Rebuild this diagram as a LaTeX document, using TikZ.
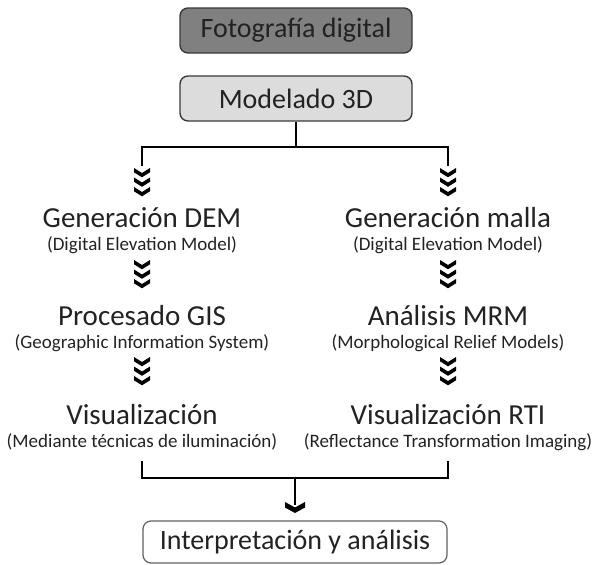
\documentclass[tikz,border=0pt]{standalone}
\usepackage{fontspec}
\setmainfont{Carlito}
\definecolor{txt}{HTML}{222222}
\definecolor{darkfill}{HTML}{808080}
\definecolor{lightfill}{HTML}{DCDCDC}
\definecolor{edge}{HTML}{3A3A3A}
\begin{document}
\begin{tikzpicture}[x=1pt,y=-1pt,
  big/.style={font=\fontsize{29}{32}\selectfont, text=txt, inner sep=0pt, anchor=base},
  small/.style={font=\fontsize{19}{22}\selectfont, text=txt, inner sep=0pt, anchor=base},
  boxtxt/.style={font=\fontsize{28}{31}\selectfont, text=txt, rounded corners=8pt, line width=1.4pt, draw=edge, inner sep=0pt},
  conn/.style={line width=2.6pt, draw=black, line join=miter},
  chev/.pic={\fill[black] (-8,0) -- (0,5) -- (8,0) -- (8,4.3) -- (0,9.3) -- (-8,4.3) -- cycle;},
  chevs/.pic={\pic at (0,0) {chev}; \pic at (0,9.5) {chev}; \pic at (0,19) {chev};},
  bigchev/.pic={\fill[black] (-10,0) -- (0,5.5) -- (10,0) -- (10,5.5) -- (0,11) -- (-10,5.5) -- cycle;}
]
\useasboundingbox (0,0) rectangle (598,565);

% top boxes
\node[boxtxt, fill=darkfill, minimum width=232pt, minimum height=45pt] (foto) at (296,30.5) {Fotografía digital};
\node[boxtxt, fill=lightfill, minimum width=232pt, minimum height=45pt] (model) at (296,98.5) {Modelado 3D};

% split
\coordinate (tl) at (142,147);
\coordinate (tr) at (448,147);
\coordinate (cl) at (142,166);
\coordinate (cr) at (448,166);
\draw[conn] (model.south) -- (model.south |- tl);
\draw[conn] (cl) -- (tl) -- (tr) -- (cr);
\pic at (142,168) {chevs};
\pic at (448,168) {chevs};

% row 1
\node[big] (gdem) at (142,227) {Generación DEM};
\node[small] (gdems) at (142,250) {(Digital Elevation Model)};
\node[big] (gmalla) at (448,227) {Generación malla};
\node[small] (gmallas) at (448,250) {(Digital Elevation Model)};
\pic at (142,260) {chevs};
\pic at (448,260) {chevs};

% row 2
\node[big] (gis) at (142,325.5) {Procesado GIS};
\node[small] (giss) at (142,348.5) {(Geographic Information System)};
\node[big] (mrm) at (448,325.5) {Análisis MRM};
\node[small] (mrms) at (448,348.5) {(Morphological Relief Models)};
\pic at (142,357) {chevs};
\pic at (448,357) {chevs};

% row 3
\node[big] (vis) at (142,424) {Visualización};
\node[small] (viss) at (142,447) {(Mediante técnicas de iluminación)};
\node[big] (rti) at (448,424) {Visualización RTI};
\node[small] (rtis) at (448,447) {(Reflectance Transformation Imaging)};

% merge
\coordinate (bl1) at (142,461);
\coordinate (bl2) at (142,478);
\coordinate (br1) at (448,461);
\coordinate (br2) at (448,478);
\coordinate (bm) at (295,478);
\coordinate (bme) at (295,505);
\draw[conn] (bl1) -- (bl2) -- (br2) -- (br1);
\draw[conn] (bm) -- (bme);
\pic at (295,502) {bigchev};

% final box
\node[boxtxt, draw=edge!80, line width=1.2pt, fill=white, minimum width=304pt, minimum height=42pt] (interp) at (295,542) {Interpretación y análisis};
\end{tikzpicture}
\end{document}
